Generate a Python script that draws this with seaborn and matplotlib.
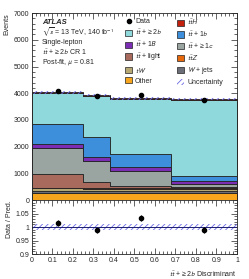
import numpy as np
import pandas as pd
import matplotlib
matplotlib.use("Agg")
import matplotlib.pyplot as plt
import seaborn as sns
from matplotlib.patches import Patch
from matplotlib.lines import Line2D
from matplotlib.ticker import MultipleLocator

# bins of the discriminant
edges = [0.0, 0.25, 0.38, 0.68, 1.0]
centers = [0.125, 0.315, 0.53, 0.84]

# post-fit yields per bin
tth = [35, 30, 30, 30]
tt_2b = [1164, 1555, 2055, 2843]
tt_1b = [749, 738, 498, 210]
tt_1B = [150, 161, 150, 90]
tt_1c = [974, 775, 545, 134]
tt_light = [497, 224, 80, 36]
ttz = [20, 20, 20, 15]
tw = [95, 85, 90, 85]
wjets = [90, 90, 85, 90]
other = [260, 255, 255, 250]
data = [4094, 3884, 3933, 3745]
data_err = [40, 40, 40, 40]
unc_rel = [0.012, 0.012, 0.012, 0.012]

# order = top of stack first
procs = ["ttH", "tt2b", "tt1b", "tt1B", "tt1c", "ttlight", "ttZ", "tW", "Wjets", "Other"]
yields = [tth, tt_2b, tt_1b, tt_1B, tt_1c, tt_light, ttz, tw, wjets, other]
colors = {
    "ttH": "#c21f0c", "tt2b": "#8fd8dc", "tt1b": "#3d8edb", "tt1B": "#7b2db3",
    "tt1c": "#9aa5a2", "ttlight": "#a76a5c", "ttZ": "#e8680c", "tW": "#b5a872",
    "Wjets": "#6b6e77", "Other": "#f7a51c",
}
labels = {
    "ttH": r"$t\bar{t}H$", "tt2b": r"$t\bar{t}$ + ≥ 2$b$", "tt1b": r"$t\bar{t}$ + 1$b$",
    "tt1B": r"$t\bar{t}$ + 1$B$", "tt1c": r"$t\bar{t}$ + ≥ 1$c$", "ttlight": r"$t\bar{t}$ + light",
    "ttZ": r"$t\bar{t}Z$", "tW": r"$tW$", "Wjets": r"$W$ + jets", "Other": "Other",
}
hatch_col = "#6a6ae6"

rows = []
for p, ys in zip(procs, yields):
    for c, v in zip(centers, ys):
        rows.append({"x": c, "w": v, "proc": p})
df = pd.DataFrame(rows)

total = np.array(yields).sum(axis=0)
data = np.array(data)
data_err = np.array(data_err)

sns.set_style("ticks")
plt.rcParams["font.family"] = ["Liberation Sans", "DejaVu Sans"]
plt.rcParams["mathtext.fontset"] = "stixsans"
plt.rcParams["hatch.linewidth"] = 0.6

fs = 5

fig = plt.figure(figsize=(2.49, 2.79), dpi=100)
ax = fig.add_axes([0.1285, 0.283, 0.823, 0.670])
rax = fig.add_axes([0.1285, 0.0896, 0.823, 0.1935], sharex=ax)

sns.histplot(data=df, x="x", weights="w", hue="proc", hue_order=procs, palette=colors,
             bins=edges, multiple="stack", element="step", fill=True, alpha=1,
             edgecolor="#222222", linewidth=0.6, legend=False, ax=ax)

# uncertainty band
up = np.append(total * (1 + np.array(unc_rel)), total[-1] * (1 + unc_rel[-1]))
dn = np.append(total * (1 - np.array(unc_rel)), total[-1] * (1 - unc_rel[-1]))
ax.fill_between(edges, dn, up, step="post", facecolor="none", edgecolor=hatch_col,
                hatch="//////", linewidth=0)
ax.errorbar(centers, data, yerr=data_err, fmt="o", color="black", ms=3, lw=0.8, capsize=0)

ax.set_xlim(0, 1)
ax.set_ylim(0, 7000)
ax.set_ylabel("Events", loc="top", fontsize=fs, labelpad=2)
ax.set_xlabel("")
ax.yaxis.set_major_locator(MultipleLocator(1000))
ax.yaxis.set_minor_locator(MultipleLocator(200))
ax.tick_params(labelbottom=False)

# ratio
ratio = data / total
r_err = data_err / total
rel = np.append(unc_rel, unc_rel[-1])
rax.fill_between(edges, 1 - rel, 1 + rel, step="post", facecolor="none", edgecolor=hatch_col,
                 hatch="//////", linewidth=0)
rax.axhline(1, color="#1c1c70", lw=0.7)
rax.errorbar(centers, ratio, yerr=r_err, fmt="o", color="black", ms=3, lw=0.8, capsize=0)
rax.set_ylim(0.9, 1.1)
rax.set_yticks([0.9, 0.95, 1.0, 1.05])
rax.set_yticklabels(["0.9", "0.95", "1", "1.05"])
rax.yaxis.set_minor_locator(MultipleLocator(0.01))
rax.set_xticks(np.arange(0, 1.01, 0.1))
rax.set_xticklabels(["0", "0.1", "0.2", "0.3", "0.4", "0.5", "0.6", "0.7", "0.8", "0.9", "1"])
rax.xaxis.set_minor_locator(MultipleLocator(0.02))
rax.set_ylabel("Data / Pred.", loc="top", fontsize=fs, labelpad=2)
rax.set_xlabel(r"$t\bar{t}$ + ≥ 2$b$ Discriminant", loc="right", fontsize=fs, labelpad=4)

for a in (ax, rax):
    a.tick_params(which="both", direction="in", top=True, right=True, labelsize=fs, width=0.5, pad=2)
    a.tick_params(which="major", length=4)
    a.tick_params(which="minor", length=2)
    for s in a.spines.values():
        s.set_linewidth(0.6)

# labels
ax.text(0.049, 0.952, "ATLAS", transform=ax.transAxes, fontsize=5.5, fontweight="bold", style="italic", va="center")
txt = [r"$\sqrt{s}$ = 13 TeV, 140 fb$^{-1}$", "Single-lepton", r"$t\bar{t}$ + ≥ 2$b$ CR 1", r"Post-fit, $\mu$ = 0.81"]
for i, t in enumerate(txt):
    ax.text(0.049, 0.898 - 0.0535 * i, t, transform=ax.transAxes, fontsize=fs, va="center")

# legend, two separate columns
col1 = ["tt2b", "tt1B", "ttlight", "tW", "Other"]
col2 = ["ttH", "tt1b", "tt1c", "ttZ", "Wjets"]
h1 = [Line2D([], [], marker="o", color="black", ls="none", ms=3)] + \
     [Patch(facecolor=colors[p], edgecolor="#222222", lw=0.5) for p in col1]
l1 = ["Data"] + [labels[p] for p in col1]
h2 = [Patch(facecolor=colors[p], edgecolor="#222222", lw=0.5) for p in col2] + \
     [Patch(facecolor="none", edgecolor=hatch_col, hatch="//////", lw=0)]
l2 = [labels[p] for p in col2] + ["Uncertainty"]
kw = dict(loc="upper left", fontsize=fs, frameon=False, handlelength=1.0, handleheight=1.0,
          handletextpad=0.4, labelspacing=0.38, borderaxespad=0, borderpad=0)
leg1 = ax.legend(h1, l1, bbox_to_anchor=(0.455, 0.975), **kw)
ax.add_artist(leg1)
ax.legend(h2, l2, bbox_to_anchor=(0.71, 0.975), **kw)

fig.savefig("out.png", dpi=100)
